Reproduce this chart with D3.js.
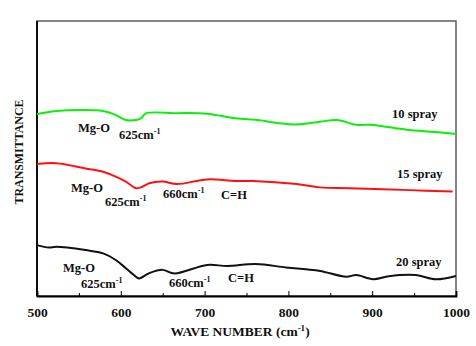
<!DOCTYPE html>
<html>
<head>
<meta charset="utf-8">
<script src="https://cdn.jsdelivr.net/npm/d3@7"></script>
<style>
  body { margin: 0; background: #fff; }
  text { font-family: "Liberation Serif", "Times New Roman", serif; font-weight: bold; fill: #111; }
</style>
</head>
<body>
<script>
var wave10 = [500, 523, 579, 594, 606, 618, 624, 630, 666, 703, 737, 763, 790, 810, 838, 858, 882, 897, 945, 985, 1000];
var spray10 = [66.1, 67.3, 67.3, 65.8, 64.0, 64.0, 64.6, 66.4, 66.5, 66.3, 64.6, 64.0, 62.8, 62.4, 63.4, 64.0, 62.2, 62.3, 60.4, 59.4, 58.9];

var wave15 = [500, 523, 558, 579, 594, 606, 618, 624, 634, 650, 667, 703, 737, 758, 810, 838, 873, 945, 996];
var spray15 = [48.0, 48.3, 46.4, 45.2, 43.4, 41.6, 39.2, 39.5, 41.0, 41.6, 40.7, 42.4, 41.8, 41.8, 40.7, 39.5, 39.2, 38.5, 38.0];

var wave20 = [500, 514, 523, 558, 579, 594, 606, 618, 622, 634, 650, 664, 703, 727, 761, 797, 821, 838, 869, 881, 901, 920, 952, 976, 1000];
var spray20 = [18.5, 17.6, 17.9, 16.7, 15.5, 13.1, 10.1, 7.0, 6.4, 8.3, 9.5, 8.2, 11.3, 10.9, 11.6, 10.4, 9.7, 9.1, 7.0, 7.6, 6.1, 7.2, 7.6, 6.1, 7.3];

var xTicks = [500, 600, 700, 800, 900, 1000];
var xMinor = [550, 650, 750, 850, 950];

var w = 476;
var h = 346;
var m = { left: 37, right: 20, top: 21, bottom: 50 };

var svg = d3.select("body")
  .append("svg")
    .attr("width", w)
    .attr("height", h);

var x = d3.scaleLinear().domain([500, 1000]).range([m.left, w - m.right]);
var y = d3.scaleLinear().domain([0, 100]).range([h - m.bottom, m.top]);

// marco
svg.append("rect")
  .attr("x", m.left)
  .attr("y", m.top)
  .attr("width", w - m.left - m.right)
  .attr("height", h - m.top - m.bottom)
  .attr("fill", "none")
  .attr("stroke", "#444")
  .attr("stroke-width", 1.3);

// eje x
var xAxis = svg.append("g")
  .attr("transform", "translate(0," + (h - m.bottom) + ")")
  .call(d3.axisBottom(x).tickValues(xTicks).tickSize(-5).tickPadding(11).tickFormat(d3.format("d")));
xAxis.select(".domain").attr("stroke", "#000").attr("stroke-width", 1.8);
xAxis.selectAll("text").style("font-size", "13.5px").style("font-family", "Liberation Serif").style("font-weight", "bold").attr("fill", "#111");

svg.append("g")
  .attr("transform", "translate(0," + (h - m.bottom) + ")")
  .call(d3.axisBottom(x).tickValues(xMinor).tickSize(-3).tickFormat(""))
  .select(".domain").remove();

// eje y (sin marcas)
svg.append("line")
  .attr("x1", m.left).attr("x2", m.left)
  .attr("y1", m.top).attr("y2", h - m.bottom)
  .attr("stroke", "#000").attr("stroke-width", 1.8);

// curvas
var series = [
  { wave: wave10, val: spray10, color: "#0af00a" },
  { wave: wave15, val: spray15, color: "#ff1010" },
  { wave: wave20, val: spray20, color: "#111" }
];

var line = d3.line()
  .x(function(d) { return x(d[0]); })
  .y(function(d) { return y(d[1]); })
  .curve(d3.curveCatmullRom.alpha(0.5));

series.forEach(function(s) {
  svg.append("path")
    .datum(d3.zip(s.wave, s.val))
    .attr("fill", "none")
    .attr("stroke", s.color)
    .attr("stroke-width", 2)
    .attr("d", line);
});

// etiquetas de texto
function label(tx, ty, txt, sup) {
  var t = svg.append("text")
    .attr("x", tx).attr("y", ty)
    .style("font-size", "12.5px")
    .text(txt);
  if (sup) {
    t.append("tspan").attr("dy", -5).style("font-size", "8px").text(sup);
  }
}

label(392, 118, "10 spray");
label(397, 178, "15 spray");
label(396, 266, "20 spray");

label(78, 132, "Mg-O");
label(119, 139, "625cm", "-1");

label(71, 192, "Mg-O");
label(105, 206, "625cm", "-1");
label(163, 198, "660cm", "-1");
label(221, 199, "C=H");

label(63, 272, "Mg-O");
label(81, 288, "625cm", "-1");
label(169, 287, "660cm", "-1");
label(228, 282, "C=H");

// titulos de ejes
var xl = svg.append("text")
  .attr("x", 240).attr("y", 336)
  .attr("text-anchor", "middle")
  .style("font-size", "13.5px")
  .text("WAVE NUMBER (cm");
xl.append("tspan").attr("dy", -5).style("font-size", "9px").text("-1");
xl.append("tspan").attr("dy", 5).text(")");

svg.append("text")
  .attr("transform", "translate(23,152) rotate(-90)")
  .attr("text-anchor", "middle")
  .style("font-size", "13.5px")
  .attr("textLength", 105)
  .attr("lengthAdjust", "spacingAndGlyphs")
  .text("TRANSMITTANCE");
</script>
</body>
</html>
